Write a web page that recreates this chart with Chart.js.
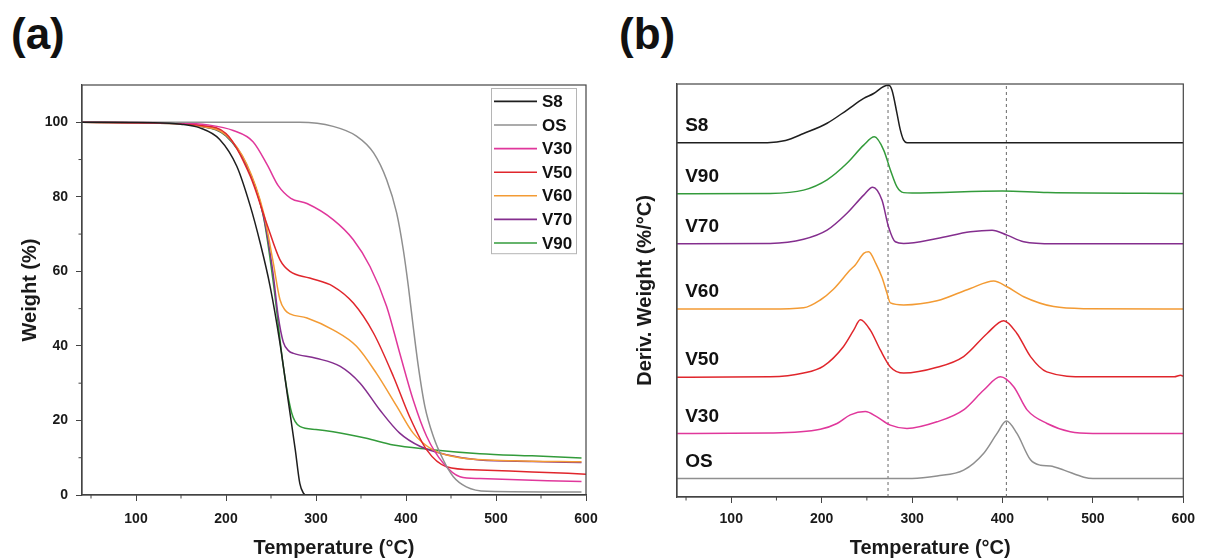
<!DOCTYPE html>
<html lang="en">
<head>
<meta charset="UTF-8">
<title>TGA / DTG</title>
<style>
  html, body { margin: 0; padding: 0; background: #fff; }
  body { width: 1205px; height: 560px; position: relative; overflow: hidden;
         font-family: "Liberation Sans", Arial, sans-serif; }
  .panel { position: absolute; font-weight: bold; font-size: 44px; line-height: 1; color: #111; }
  #wrapA { position: absolute; left: 0; top: 0; width: 600px; height: 560px; }
  #wrapB { position: absolute; left: 600px; top: 0; width: 605px; height: 560px; }
</style>
</head>
<body>
<div class="panel" style="left:11px; top:12px;">(a)</div>
<div class="panel" style="left:619px; top:12px;">(b)</div>
<div id="wrapA"><canvas id="tgaChart" width="600" height="560"></canvas></div>
<div id="wrapB"><canvas id="dtgChart" width="605" height="560"></canvas></div>

<script src="https://cdn.jsdelivr.net/npm/chart.js"></script>
<script>
// ---- (a) TGA: [temperature °C, weight %]
const tgaS8 = [[40,100],[120,99.9],[150,99.5],[171,98.5],[193,95.4],[212,88.2],[227,77.5],[238,67.6],[249,56],[260,40.7],[269,25.5],[277,12.1],[282,3.1],[286,0.5],[290,0],[600,0]];
const tgaOS = [[40,100],[282,100],[319,98.9],[345,96.3],[364,91.8],[378.5,84.6],[389.6,75.7],[397,65.8],[402.6,56],[408,45.2],[413.7,34.5],[421,23.7],[430.4,15.7],[441.5,9.4],[452.6,4.9],[467,2.2],[490,1],[595,0.8]];
const tgaV30 = [[40,100],[150,99.8],[180,99.3],[208,97.8],[230,94.8],[246,88.5],[258,83],[272,79.6],[290,78.2],[319,73.9],[341.5,68.5],[360,61.3],[378.5,50.6],[393,38.1],[408,25.5],[423,15.7],[441.5,8.5],[460,4.9],[482,4.4],[595,3.6]];
const tgaV50 = [[40,100],[150,99.7],[171,99.2],[200,97],[227,85.5],[245,73],[260,63.1],[271,60],[293,58.2],[319,56],[341.5,51.5],[364,43.4],[386,31.8],[404,21],[423,12.1],[445,7.6],[482,6.7],[540,6.2],[600,5.6]];
const tgaV60 = [[40,100],[150,99.6],[171,99],[200,96.6],[223,88.8],[242,75.5],[252,63],[260,52.4],[266,49.5],[271,48.6],[290,47.5],[319,44.3],[345,39.9],[367,32.7],[390,23.7],[408,16.6],[430,12.1],[460,10],[520,9.2],[595,8.9]];
const tgaV70 = [[40,100],[150,99.6],[171,99],[200,96.5],[223,88.5],[241.5,75],[252,60],[258,48],[263.7,41],[270,38.6],[275,38],[300,36.7],[327,34.5],[349,30],[371,22.8],[393,16.6],[416,13],[445,10.8],[482,9.4],[540,9],[595,8.7]];
const tgaV90 = [[40,100],[150,99.6],[171,99],[200,96.3],[223,88.2],[241.5,74.8],[252.6,56.9],[263.7,34.5],[273,22],[282,18.4],[300,17.6],[319,17],[356,15.2],[386,13.4],[423,12.3],[482,11.1],[540,10.5],[595,9.9]];

// ---- (b) DTG: [temperature °C, stacked derivative, arbitrary units]
const dtgS8 = [[40,85.8],[140,85.8],[160,86.3],[180,88],[206,90.5],[228,93.7],[246.5,96.5],[257.5,97.7],[268.6,99.4],[274,99.7],[277.8,98.5],[283.3,92.9],[287,88.9],[290.7,86.4],[294.4,85.8],[600,85.8]];
const dtgV90 = [[40,73.4],[143,73.5],[180,74.3],[206,76.8],[228,80.8],[246.5,85.2],[258.3,87.2],[268.6,84],[276,79.2],[283.3,75.1],[290.7,73.7],[300,73.6],[400,74.1],[450,73.7],[600,73.5]];
const dtgV70 = [[40,61.3],[143,61.4],[180,62.4],[206,64.6],[228,68.7],[246.5,73.1],[256.4,75],[266.7,71.9],[274,65.4],[281.5,61.8],[290.7,61.4],[327.6,62.6],[364.5,64.2],[388.5,64.6],[405,63.4],[423.5,61.8],[456.7,61.3],[600,61.3]];
const dtgV60 = [[40,45.5],[143,45.5],[180,45.8],[198.5,47.7],[213,50.3],[231.7,55],[237.2,56.2],[246.5,59],[252,59.4],[260,56.5],[267,53],[272,49.5],[276,47],[290.7,46.5],[327.6,47.5],[364.5,50.5],[390.3,52.3],[405,50.9],[423.5,48.5],[456.7,46.1],[493.6,45.6],[600,45.5]];
const dtgV50 = [[40,29],[143,29.1],[180,30],[202,31.7],[224,36.4],[235.4,40.4],[242.8,42.9],[253.8,40.4],[264.9,35.6],[276,31.5],[290.7,30],[327.6,31.4],[357,34],[383,39.6],[401.4,42.7],[416,39.6],[431,34],[449,30.3],[493.6,29.1],[590,29.1],[597,29.5],[600,29.2]];
const dtgV30 = [[40,15.4],[143,15.5],[198.5,16.4],[217,17.8],[231.7,19.9],[248.3,20.7],[261.2,19.4],[276,17.4],[294.4,16.6],[327.6,18.2],[357,21.1],[379.3,25.9],[397.7,29.1],[412.4,26.7],[427.2,21.1],[449.3,17.8],[475,15.8],[500,15.4],[600,15.4]];
const dtgOS = [[40,4.5],[300,4.5],[327.6,5.1],[357,6.5],[379.3,10.6],[394,15.4],[404.3,18.4],[416,15.4],[431,9],[442,7.7],[453,7.5],[468,6.5],[490,4.8],[500,4.5],[600,4.5]];
const markerTemps = [273.4, 404.3];

const xMinor = [50, 150, 250, 350, 450, 550];
const yMinor = [10, 30, 50, 70, 90];

const colors = { S8: '#1e1e1e', OS: '#8f8f8f', V30: '#e0379b', V50: '#e0262c', V60: '#f39b34', V70: '#842e8e', V90: '#339b3b' };
const FONT = '"Liberation Sans", Arial, sans-serif';

Chart.defaults.font.family = FONT;
Chart.defaults.color = '#1a1a1a';

const pts = arr => arr.map(([x, y]) => ({ x, y }));
const series = (label, arr) => ({
    label, data: pts(arr), borderColor: colors[label], borderWidth: 1.5,
    pointRadius: 0, cubicInterpolationMode: 'monotone', fill: false
});

// frame around the plot area
const frame = {
    id: 'frame',
    afterDraw(chart) {
        const { ctx, chartArea: a } = chart;
        ctx.save();
        ctx.strokeStyle = '#444';
        ctx.lineWidth = 1.2;
        ctx.strokeRect(a.left, a.top, a.right - a.left, a.bottom - a.top);
        ctx.restore();
    }
};

// short minor ticks between the labelled ones
const minorTicks = {
    id: 'minorTicks',
    afterDraw(chart, args, opts) {
        const { ctx, chartArea: a, scales } = chart;
        ctx.save();
        ctx.strokeStyle = '#444';
        ctx.lineWidth = 1;
        ctx.beginPath();
        (opts.x || []).forEach(v => {
            const px = scales.x.getPixelForValue(v);
            ctx.moveTo(px, a.bottom); ctx.lineTo(px, a.bottom + 3.5);
        });
        (opts.y || []).forEach(v => {
            const py = scales.y.getPixelForValue(v);
            ctx.moveTo(a.left, py); ctx.lineTo(a.left - 3.5, py);
        });
        ctx.stroke();
        ctx.restore();
    }
};

// boxed legend in the top right corner of (a)
const boxLegend = {
    id: 'boxLegend',
    afterDatasetsDraw(chart) {
        const { ctx, chartArea } = chart;
        const sets = chart.data.datasets;
        const rowH = 23.6, w = 85;
        const left = chartArea.right - 10 - w, top = chartArea.top + 3;
        const h = rowH * sets.length;
        ctx.save();
        ctx.fillStyle = '#fff';
        ctx.fillRect(left, top, w, h);
        ctx.strokeStyle = '#b5b5b5';
        ctx.lineWidth = 1;
        ctx.strokeRect(left + 0.5, top + 0.5, w, h);
        ctx.font = 'bold 17px ' + FONT;
        ctx.textBaseline = 'middle';
        sets.forEach((ds, i) => {
            const y = top + 13.4 + i * rowH;
            ctx.strokeStyle = ds.borderColor;
            ctx.lineWidth = 1.6;
            ctx.beginPath(); ctx.moveTo(left + 3, y); ctx.lineTo(left + 46, y); ctx.stroke();
            ctx.fillStyle = '#111';
            ctx.fillText(ds.label, left + 51, y + 1);
        });
        ctx.restore();
    }
};

// names written above each stacked curve in (b)
const curveTags = {
    id: 'curveTags',
    afterDatasetsDraw(chart, args, opts) {
        const { ctx, scales } = chart;
        ctx.save();
        ctx.font = 'bold 19px ' + FONT;
        ctx.fillStyle = '#111';
        ctx.textBaseline = 'middle';
        chart.data.datasets.forEach(ds => {
            if (!opts.names.includes(ds.label)) return;
            const base = ds.data[0].y;
            ctx.fillText(ds.label, scales.x.getPixelForValue(opts.atTemp), scales.y.getPixelForValue(base) - opts.lift);
        });
        ctx.restore();
    }
};

function xAxis(height, pad) {
    return {
        type: 'linear', min: 40, max: 600,
        afterBuildTicks: s => { s.ticks = s.ticks.filter(t => t.value % 100 === 0); },
        // fixed height, and no extra room for the end labels: the layout padding decides
        afterFit: s => { s.height = height; s.paddingLeft = 0; s.paddingRight = 0; },
        ticks: { stepSize: 100, autoSkip: false, maxRotation: 0, padding: pad, font: { size: 14, weight: 'bold' } },
        grid: { drawOnChartArea: false, drawTicks: true, tickLength: 6, color: '#444' },
        border: { color: '#444', width: 1.2 },
        title: { display: true, text: 'Temperature (°C)', font: { size: 20, weight: 'bold' }, padding: { top: 0, bottom: 0 } }
    };
}

window.onload = function () {
    // (a) weight loss curves
    new Chart(document.getElementById('tgaChart').getContext('2d'), {
        type: 'line',
        data: {
            datasets: [
                series('S8', tgaS8), series('OS', tgaOS), series('V30', tgaV30), series('V50', tgaV50),
                series('V60', tgaV60), series('V70', tgaV70), series('V90', tgaV90)
            ]
        },
        options: {
            responsive: false, animation: false,
            layout: { padding: { left: 0, right: 14, top: 85, bottom: 0 } },
            plugins: { legend: { display: false }, tooltip: { enabled: false }, minorTicks: { x: xMinor, y: yMinor } },
            scales: {
                x: xAxis(65, 10),
                y: {
                    min: 0, max: 110,
                    afterBuildTicks: s => { s.ticks = s.ticks.filter(t => t.value % 20 === 0); },
                    afterFit: s => { s.width = 82; s.paddingTop = 0; s.paddingBottom = 0; },
                    ticks: { stepSize: 20, padding: 8, font: { size: 14, weight: 'bold' } },
                    grid: { drawOnChartArea: false, drawTicks: true, tickLength: 6, color: '#444' },
                    border: { color: '#444', width: 1.2 },
                    title: { display: true, text: 'Weight (%)', font: { size: 20, weight: 'bold' }, padding: { top: 18, bottom: 0 } }
                }
            }
        },
        plugins: [frame, minorTicks, boxLegend]
    });

    // (b) stacked derivative curves
    const dtgNames = ['S8', 'V90', 'V70', 'V60', 'V50', 'V30', 'OS'];
    const markers = markerTemps.map(t => ({
        label: 'marker', data: [{ x: t, y: 0 }, { x: t, y: 100 }], borderColor: '#6a6a6a',
        borderWidth: 1, borderDash: [3, 3], pointRadius: 0, order: 10
    }));
    new Chart(document.getElementById('dtgChart').getContext('2d'), {
        type: 'line',
        data: {
            datasets: [
                series('S8', dtgS8), series('V90', dtgV90), series('V70', dtgV70), series('V60', dtgV60),
                series('V50', dtgV50), series('V30', dtgV30), series('OS', dtgOS)
            ].concat(markers)
        },
        options: {
            responsive: false, animation: false,
            layout: { padding: { left: 0, right: 21.7, top: 84, bottom: 0 } },
            plugins: {
                legend: { display: false }, tooltip: { enabled: false },
                minorTicks: { x: xMinor },
                curveTags: { names: dtgNames, atTemp: 49, lift: 17 }
            },
            scales: {
                x: xAxis(63, 8),
                y: {
                    min: 0, max: 100,
                    afterFit: s => { s.width = 77; },
                    ticks: { display: false },
                    grid: { drawOnChartArea: false, drawTicks: false },
                    border: { color: '#444', width: 1.2 },
                    title: { display: true, text: 'Deriv. Weight (%/°C)', font: { size: 20, weight: 'bold' }, padding: { top: 33, bottom: 0 } }
                }
            }
        },
        plugins: [frame, minorTicks, curveTags]
    });
};
</script>
</body>
</html>
